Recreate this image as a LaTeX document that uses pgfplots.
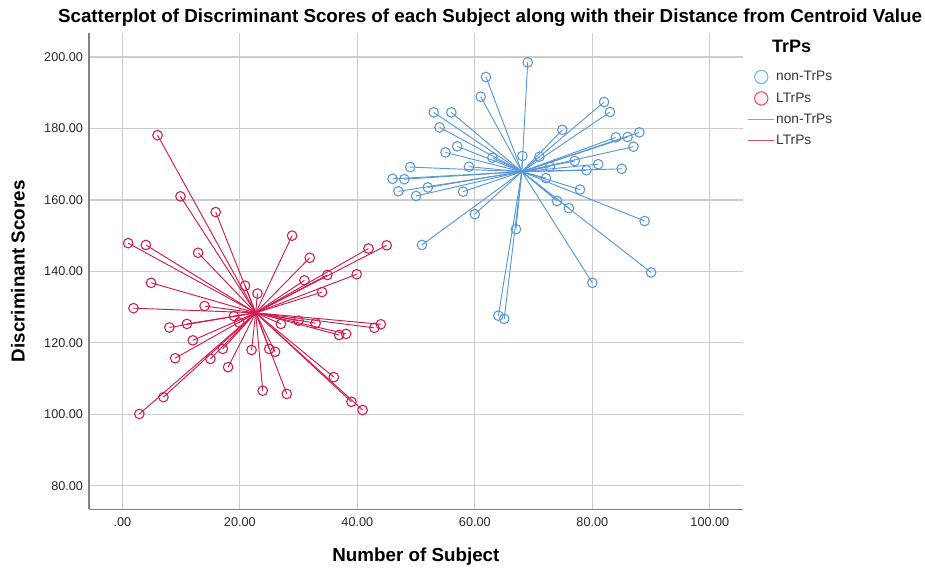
\documentclass[border=0pt]{standalone}
\usepackage{pgfplots}
\pgfplotsset{compat=1.18}
\usepackage{pgfplotstable}
\usepackage{fontspec}
\setmainfont{Liberation Sans}
\definecolor{tblue}{RGB}{88,152,214}
\definecolor{tred}{RGB}{208,28,78}
\definecolor{gridc}{RGB}{205,205,205}
\definecolor{axc}{RGB}{130,130,130}

% LTrPs subjects (centroid 22.7, 128.4)
\pgfplotstableread{
x y
6.0 178.1
9.9 161.0
15.9 156.6
1.0 147.9
4.0 147.4
12.9 145.2
28.9 150.0
31.9 143.8
41.9 146.4
45.0 147.3
34.9 139.0
39.9 139.2
31.0 137.5
34.0 134.2
4.9 136.8
20.9 136.0
23.0 133.8
1.9 129.7
14.0 130.3
19.0 127.5
8.0 124.3
11.0 125.3
19.9 125.7
27.0 125.3
30.0 126.2
32.9 125.5
36.9 122.2
38.1 122.5
42.9 124.2
44.0 125.2
12.0 120.7
9.0 115.7
15.0 115.5
17.1 118.3
18.0 113.2
22.0 118.0
25.0 118.3
26.0 117.5
23.9 106.6
28.0 105.7
36.0 110.4
39.0 103.5
40.9 101.2
7.0 104.8
2.9 100.1
}\redtable

% non-TrPs subjects (centroid 68.0, 167.9)
\pgfplotstableread{
x y
69.0 198.5
61.9 194.4
61.0 188.9
53.0 184.5
56.0 184.5
54.0 180.3
82.0 187.4
83.0 184.6
74.9 179.6
84.0 177.5
86.0 177.6
88.0 178.9
87.0 174.9
57.0 175.0
55.0 173.3
63.0 171.8
68.1 172.3
71.0 172.1
77.0 170.9
81.0 170.0
85.0 168.7
79.0 168.3
72.8 169.3
49.0 169.2
59.0 169.3
46.0 165.9
48.0 165.8
72.1 166.1
52.0 163.5
47.0 162.4
50.0 161.1
58.0 162.3
77.9 162.9
74.0 159.7
76.0 157.7
60.0 156.0
88.9 154.1
67.0 151.8
51.0 147.4
90.0 139.7
80.0 136.8
64.0 127.6
65.0 126.7
}\bluetable

\begin{document}
\begin{tikzpicture}[x=1pt,y=1pt]
\path[use as bounding box] (-66.75,-47) rectangle (627,382);
\begin{axis}[
  at={(0,0)}, anchor=south west,
  scale only axis, width=490.3pt, height=357.2pt,
  xmin=-5.67, xmax=105.6, ymin=73.4, ymax=206.7,
  axis lines*=left,
  axis line style={axc, line width=1.1pt},
  xtick={0,20,40,60,80,100},
  xticklabels={.00,20.00,40.00,60.00,80.00,100.00},
  ytick={80,100,120,140,160,180,200},
  yticklabels={80.00,100.00,120.00,140.00,160.00,180.00,200.00},
  major tick length=0pt,
  grid=major,
  major grid style={gridc, line width=0.9pt},
  tick label style={font=\fontsize{9.5}{11}\selectfont, text=black!85},
  xticklabel style={yshift=-3pt},
  yticklabel style={xshift=-1pt},
  xlabel={Number of Subject},
  ylabel={Discriminant Scores},
  label style={font=\bfseries\fontsize{14.1}{16}\selectfont},
  xlabel style={at={(axis description cs:0.5,-0.1)}, anchor=center},
  ylabel style={at={(axis description cs:-0.1086,0.5)}, anchor=center},
  legend style={draw=none, fill=none, at={(axis description cs:1.001,0.929)}, anchor=north west,
    font=\fontsize{10.3}{12}\selectfont, row sep=5.25pt,
    nodes={inner sep=1pt}, text=black!80},
  legend cell align=left,
  clip=false,
]
\addplot[forget plot, tblue, line width=0.7pt, quiver={u=\thisrow{x}-68.0, v=\thisrow{y}-167.9}]
  table[x expr=68.0, y expr=167.9] {\bluetable};
\addplot[forget plot, tred, line width=0.7pt, quiver={u=\thisrow{x}-22.7, v=\thisrow{y}-128.4}]
  table[x expr=22.7, y expr=128.4] {\redtable};
\addplot[forget plot, only marks, mark=o, mark size=3.6pt, tblue, mark options={line width=0.8pt}]
  table {\bluetable};
\addplot[forget plot, only marks, mark=o, mark size=3.6pt, tred, mark options={line width=0.8pt}]
  table {\redtable};

\addlegendimage{legend image code/.code={\draw[tblue!75, fill=tblue!8, line width=0.8pt] (9.75pt,0pt) circle (5pt);}}
\addlegendentry{non-TrPs}
\addlegendimage{legend image code/.code={\draw[tred!75, fill=tred!8, line width=0.8pt] (9.75pt,0pt) circle (5pt);}}
\addlegendentry{LTrPs}
\addlegendimage{tblue!80, line width=0.9pt, no markers, sharp plot,
  legend image code/.code={\draw[tblue!80, line width=0.9pt] (0pt,0pt) -- (19.5pt,0pt);}}
\addlegendentry{non-TrPs}
\addlegendimage{tred!80, line width=0.9pt, no markers, sharp plot,
  legend image code/.code={\draw[tred!80, line width=0.9pt] (0pt,0pt) -- (19.5pt,0pt);}}
\addlegendentry{LTrPs}
\end{axis}
\node[font=\bfseries\fontsize{14.1}{16}\selectfont, anchor=center] at (300.75,368.5)
  {Scatterplot of Discriminant Scores of each Subject along with their Distance from Centroid Value};
\node[font=\bfseries\fontsize{13.5}{15}\selectfont, anchor=center] at (527,347.5) {TrPs};
\end{tikzpicture}
\end{document}
